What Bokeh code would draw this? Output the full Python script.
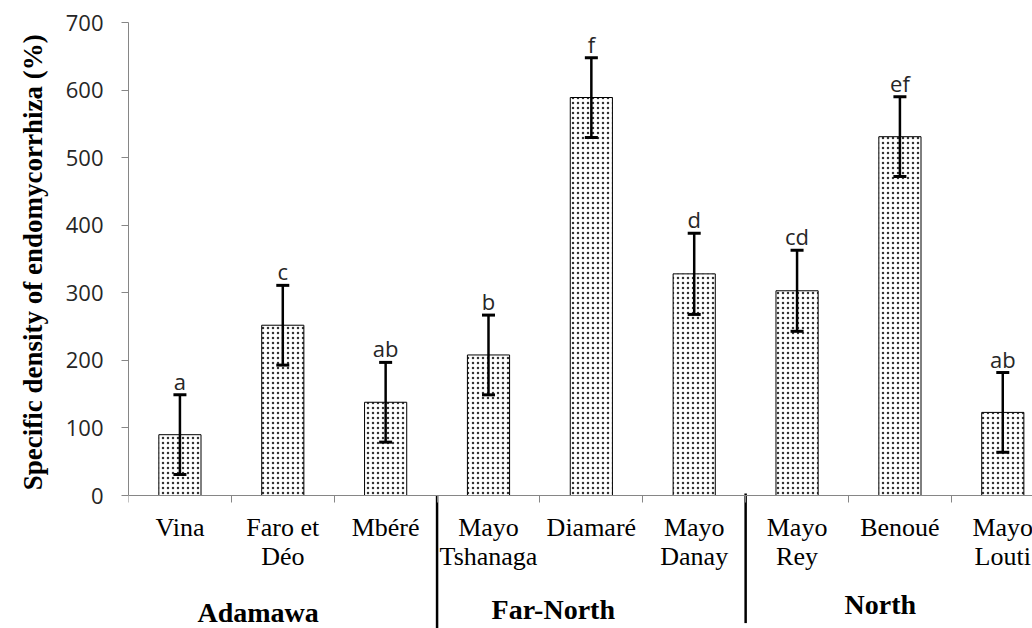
from bokeh.plotting import figure
from bokeh.models import (ColumnDataSource, Range1d, FixedTicker, Whisker, TeeHead, Label, Title)
from bokeh.embed import file_html
from bokeh.resources import INLINE

# ---- data ----
line1 = ["Vina", "Faro et", "Mbéré", "Mayo", "Diamaré", "Mayo", "Mayo", "Benoué", "Mayo"]
line2 = ["", "Déo", "", "Tshanaga", "", "Danay", "Rey", "", "Louti"]
values = [90, 252, 138, 208, 589, 328, 303, 531, 123]
errors = [59, 59, 59, 59, 59, 60, 60, 59, 59]
letters = ["a", "c", "ab", "b", "f", "d", "cd", "ef", "ab"]
groups = ["Adamawa", "Far-North", "North"]
group_x = [1.26, 4.13, 7.31]
group_sep = [3, 6]
y_ticks = [0, 100, 200, 300, 400, 500, 600, 700]
y_title = "Specific density of  endomycorrhiza (%)"

Y_LOW = -196.8   # lower end of the value axis, room for the category texts

xs = [i + 0.5 for i in range(len(values))]
upper = [v + e for v, e in zip(values, errors)]
lower = [v - e for v, e in zip(values, errors)]
src = ColumnDataSource(dict(x=xs, top=values, upper=upper, lower=lower, lab=letters))

p = figure(width=1032, height=628, output_backend="svg", toolbar_location=None,
           x_range=Range1d(0, 8.789), y_range=Range1d(Y_LOW, 700),
           min_border_left=128, min_border_right=0, min_border_top=22,
           min_border_bottom=0)
p.outline_line_color = None
p.grid.visible = False

p.vbar(x="x", top="top", bottom=0, width=0.41, source=src, fill_color="white",
       line_color="black", line_width=1, hatch_pattern=".", hatch_scale=5,
       hatch_weight=1, hatch_color="black", hatch_alpha=0.8)

wh = Whisker(base="x", upper="upper", lower="lower", source=src, dimension="height",
             line_width=2.5, line_color="black", level="annotation",
             upper_head=TeeHead(size=13, line_width=3, line_color="black"),
             lower_head=TeeHead(size=13, line_width=3, line_color="black"))
p.add_layout(wh)

# letters above error bars
for x, u, l in zip(xs, upper, letters):
    p.add_layout(Label(x=x, y=u, y_offset=14, text=l, text_align="center",
                       text_baseline="alphabetic", text_font="Open Sans",
                       text_font_size="22px", text_color="#262626"))

# y axis
ya = p.yaxis[0]
ya.ticker = FixedTicker(ticks=y_ticks)
ya.bounds = (0, 700)
ya.axis_line_color = "#868686"
ya.major_tick_line_color = "#868686"
ya.major_tick_out = 7
ya.major_tick_in = 0
ya.minor_tick_line_color = None
ya.major_label_text_font = "Open Sans"
ya.major_label_text_font_size = "22px"
ya.major_label_text_color = "#262626"
ya.major_label_standoff = 18

p.add_layout(Title(text=y_title, align="right", offset=5, standoff=30,
                   text_font="Liberation Serif", text_font_style="bold",
                   text_font_size="27px", text_color="black"), "left")

# x axis placed at y = 0
xa = p.xaxis[0]
xa.fixed_location = 0
xa.ticker = FixedTicker(ticks=list(range(0, 10)))
xa.axis_line_color = "#868686"
xa.major_tick_line_color = "#868686"
xa.major_tick_out = 7
xa.major_tick_in = 0
xa.minor_tick_line_color = None
xa.major_label_text_font_size = "0px"
xa.major_label_text_color = None

# category labels
for x, a, b in zip(xs, line1, line2):
    p.add_layout(Label(x=x, y=0, y_offset=-32, text=a, text_align="center",
                       text_baseline="alphabetic", text_font="Liberation Serif",
                       text_font_size="26px", text_color="black"))
    if b:
        p.add_layout(Label(x=x, y=0, y_offset=-61, text=b, text_align="center",
                           text_baseline="alphabetic", text_font="Liberation Serif",
                           text_font_size="26px", text_color="black"))

# group labels
for g, gx, off in zip(groups, group_x, [-117, -114, -109]):
    p.add_layout(Label(x=gx, y=0, y_offset=off, text=g, text_align="center",
                       text_baseline="alphabetic", text_font="Liberation Serif",
                       text_font_style="bold", text_font_size="28px", text_color="black"))

# group separators
p.segment(x0=group_sep, y0=[0, 3], x1=group_sep, y1=[Y_LOW, Y_LOW + 8],
          line_color="black", line_width=2.5)

open("out.html", "w").write(file_html(p, INLINE))
